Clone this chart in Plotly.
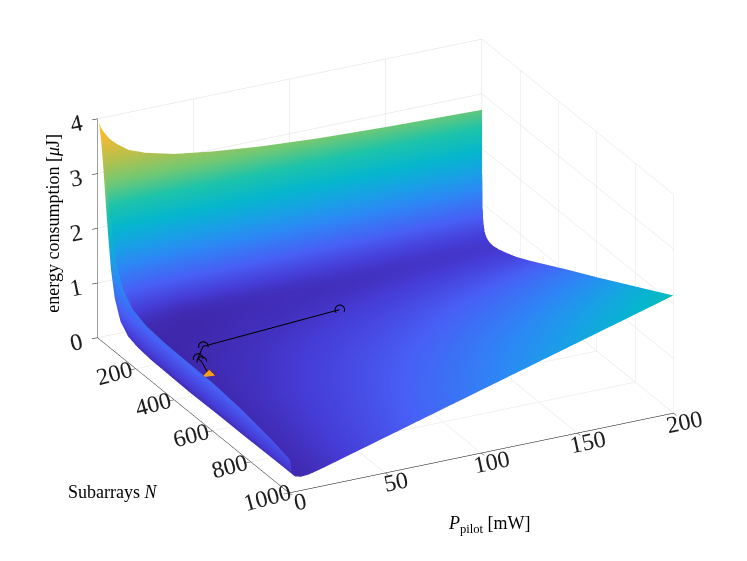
import plotly.graph_objects as go

# grid (Subarrays N along x, pilot power along y)
n_sub = [1, 2, 4, 8, 15, 25, 40, 60, 90, 130, 180, 250, 350, 450, 600, 750, 900, 1000]
p_pilot = [0.5, 1.5, 3, 6, 10, 16, 25, 40, 60, 85, 115, 150, 200]

# energy consumption in uJ, one row per pilot power
energy = [
    [3.95, 3.93, 3.90, 3.80, 3.65, 3.40, 3.00, 2.40, 1.65, 1.23, 1.02, 0.92, 0.88, 0.87, 0.86, 0.80, 0.70, 0.60],
    [3.85, 3.80, 3.70, 3.50, 3.15, 2.70, 2.10, 1.50, 0.95, 0.65, 0.51, 0.45, 0.43, 0.42, 0.41, 0.40, 0.37, 0.34],
    [3.75, 3.65, 3.45, 3.10, 2.55, 1.95, 1.35, 0.87, 0.53, 0.37, 0.31, 0.28, 0.27, 0.26, 0.27, 0.27, 0.28, 0.28],
    [3.60, 3.39, 3.04, 2.49, 1.79, 1.19, 0.74, 0.46, 0.31, 0.24, 0.22, 0.21, 0.21, 0.21, 0.22, 0.23, 0.24, 0.25],
    [3.47, 3.11, 2.56, 1.87, 1.22, 0.77, 0.47, 0.32, 0.24, 0.21, 0.20, 0.20, 0.20, 0.21, 0.22, 0.24, 0.25, 0.26],
    [3.32, 2.75, 2.05, 1.35, 0.83, 0.53, 0.36, 0.27, 0.22, 0.20, 0.20, 0.20, 0.21, 0.23, 0.25, 0.27, 0.29, 0.31],
    [3.20, 2.35, 1.50, 0.90, 0.57, 0.41, 0.31, 0.26, 0.23, 0.22, 0.22, 0.23, 0.25, 0.27, 0.31, 0.34, 0.38, 0.40],
    [3.07, 1.61, 0.88, 0.52, 0.35, 0.28, 0.24, 0.22, 0.22, 0.22, 0.24, 0.26, 0.30, 0.34, 0.40, 0.45, 0.51, 0.55],
    [2.97, 1.56, 0.88, 0.55, 0.39, 0.31, 0.27, 0.25, 0.25, 0.26, 0.28, 0.31, 0.37, 0.43, 0.52, 0.60, 0.69, 0.75],
    [2.88, 1.56, 0.96, 0.65, 0.46, 0.36, 0.31, 0.28, 0.28, 0.29, 0.32, 0.37, 0.46, 0.54, 0.67, 0.79, 0.92, 1.00],
    [2.81, 1.53, 0.95, 0.66, 0.48, 0.39, 0.34, 0.31, 0.31, 0.34, 0.38, 0.45, 0.56, 0.67, 0.84, 1.02, 1.19, 1.30],
    [2.76, 1.52, 0.95, 0.67, 0.50, 0.42, 0.37, 0.35, 0.36, 0.39, 0.45, 0.54, 0.68, 0.83, 1.05, 1.28, 1.50, 1.65],
    [2.71, 1.50, 0.95, 0.68, 0.52, 0.44, 0.40, 0.39, 0.41, 0.46, 0.53, 0.66, 0.86, 1.06, 1.35, 1.65, 1.95, 2.15],
]

# optimisation path (iterates) and the final point
path_n = [240, 230, 283, 302]
path_p = [102, 32, 24, 24]
path_e = [0.45, 0.26, 0.25, 0.25]
opt_n = [382]
opt_p = [20]
opt_e = [0.25]

n_ticks = [0, 200, 400, 600, 800, 1000]
p_ticks = [0, 50, 100, 150, 200]
e_ticks = [0, 1, 2, 3, 4]

# parula-like colormap
parula = [
    [0.00, "rgb(62,38,168)"],
    [0.06, "rgb(70,60,215)"],
    [0.14, "rgb(72,95,245)"],
    [0.25, "rgb(45,135,245)"],
    [0.33, "rgb(25,160,230)"],
    [0.42, "rgb(5,182,205)"],
    [0.52, "rgb(30,195,170)"],
    [0.62, "rgb(115,200,115)"],
    [0.72, "rgb(185,192,75)"],
    [0.82, "rgb(240,185,55)"],
    [0.92, "rgb(252,210,40)"],
    [1.00, "rgb(249,251,20)"],
]

FONT = "Liberation Serif"

fig = go.Figure()
fig.add_trace(go.Surface(
    x=n_sub, y=p_pilot, z=energy,
    colorscale=parula, cmin=0.19, cmax=4.4,
    showscale=False,
    lighting=dict(ambient=1.0, diffuse=0.0, specular=0.0, fresnel=0.0, roughness=1.0),
    hoverinfo="skip",
))
fig.add_trace(go.Scatter3d(
    x=path_n + opt_n, y=path_p + opt_p, z=path_e + opt_e,
    mode="lines",
    line=dict(color="black", width=2),
    showlegend=False,
))
fig.add_trace(go.Scatter3d(
    x=path_n, y=path_p, z=path_e,
    mode="markers",
    marker=dict(symbol="circle-open", size=6, color="black"),
    showlegend=False,
))
fig.add_trace(go.Scatter3d(
    x=opt_n, y=opt_p, z=opt_e,
    mode="markers",
    marker=dict(symbol="diamond", size=4, color="rgb(250,160,30)",
                line=dict(color="rgb(90,30,30)", width=1)),
    showlegend=False,
))

axis_style = dict(
    showbackground=False,
    showgrid=True, gridcolor="rgb(222,222,222)", gridwidth=1,
    zeroline=False,
    showline=True, linecolor="black", linewidth=1,
    ticks="outside", ticklen=6, tickcolor="black",
    tickfont=dict(family=FONT, size=17, color="rgb(30,30,30)"),
    showspikes=False,
    title=dict(text=""),
)

eye_dir = (0.814, -0.412, 0.41)
eye_dist = 2.5

fig.update_layout(
    width=747, height=561,
    paper_bgcolor="white",
    margin=dict(l=0, r=0, t=0, b=0),
    showlegend=False,
    scene=dict(
        domain=dict(x=[0.02, 0.99], y=[0.08, 1.0]),
        xaxis=dict(range=[0, 1000], tickvals=n_ticks, tickangle=-15, **axis_style),
        yaxis=dict(range=[0, 200], tickvals=p_ticks, tickangle=-12, **axis_style),
        zaxis=dict(range=[0, 4], tickvals=e_ticks, **axis_style),
        aspectmode="manual",
        aspectratio=dict(x=1.645, y=1.67, z=0.93),
        camera=dict(
            eye=dict(x=eye_dir[0] * eye_dist, y=eye_dir[1] * eye_dist, z=eye_dir[2] * eye_dist),
            up=dict(x=0, y=0, z=1),
            center=dict(x=0, y=0, z=0),
            projection=dict(type="orthographic"),
        ),
    ),
    annotations=[
        dict(text="energy consumption [<i>μ</i>J]", x=0.06, y=0.617, xref="paper", yref="paper",
             xanchor="center", yanchor="middle",
             textangle=-90, showarrow=False, font=dict(family=FONT, size=18, color="black")),
        dict(text="Subarrays <i>N</i>", x=0.14, y=0.137, xref="paper", yref="paper",
             xanchor="center", yanchor="middle",
             showarrow=False, font=dict(family=FONT, size=18, color="black")),
        dict(text="<i>P</i><sub>pilot</sub> [mW]", x=0.645, y=0.08, xref="paper", yref="paper",
             xanchor="center", yanchor="middle",
             showarrow=False, font=dict(family=FONT, size=18, color="black")),
    ],
)

fig.write_html("out.html")
